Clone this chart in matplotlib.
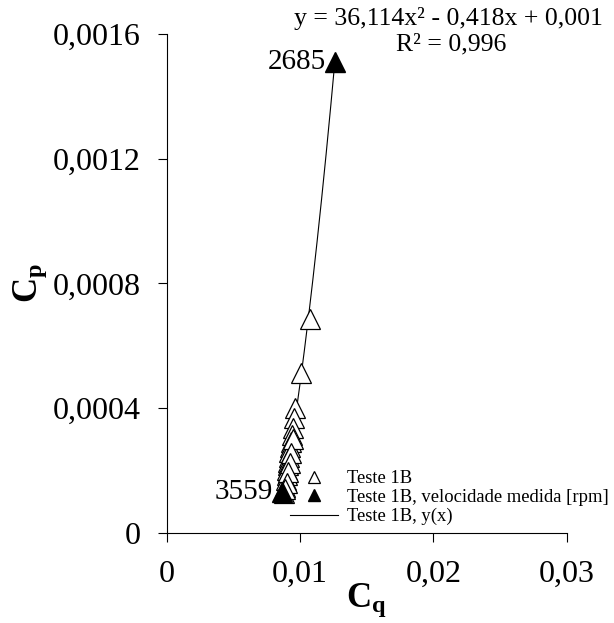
import numpy as np
import matplotlib
matplotlib.use("Agg")
import matplotlib.pyplot as plt

plt.rcParams['font.family'] = ['Liberation Serif', 'DejaVu Serif']
plt.rcParams['mathtext.fontset'] = 'custom'
plt.rcParams['mathtext.rm'] = 'Liberation Serif'
plt.rcParams['mathtext.bf'] = 'Liberation Serif:bold'
plt.rcParams['mathtext.it'] = 'Liberation Serif:italic'

# Open triangles: Teste 1B
cq_open = [0.01076, 0.01006, 0.00964, 0.00956, 0.00946, 0.00941, 0.00934, 0.00926,
           0.00921, 0.00921, 0.00914, 0.00914, 0.00906, 0.00901, 0.00896, 0.00889,
           0.00881, 0.00945, 0.00935, 0.00925, 0.00912, 0.00900, 0.00890]
cp_open = [0.000685, 0.000511, 0.000399, 0.000367, 0.000335, 0.000313, 0.000292, 0.000276,
           0.000260, 0.000244, 0.000228, 0.000217, 0.000201, 0.000185, 0.000169, 0.000148,
           0.000126, 0.000300, 0.000255, 0.000225, 0.000195, 0.000160, 0.000140]
# Filled triangles: measured rpm
cq_rpm = [0.0126, 0.00864]
cp_rpm = [0.00151, 0.000130]
rpm_labels = ['2685', '3559']

eq_line1 = 'y = 36,114x² - 0,418x + 0,001'
eq_line2 = 'R² = 0,996'

x_ticks = [0, 0.01, 0.02, 0.03]
x_ticklabels = ['0', '0,01', '0,02', '0,03']
y_ticks = [0, 0.0004, 0.0008, 0.0012, 0.0016]
y_ticklabels = ['0', '0,0004', '0,0008', '0,0012', '0,0016']

W, H = 614, 623
fig = plt.figure(figsize=(W / 100, H / 100), dpi=100)
ax = fig.add_axes([166.5 / W, 1 - 532.7 / H, (566.7 - 166.5) / W, (532.7 - 34) / H])

# trendline (quadratic fit over all points)
all_x = np.array(cq_open + cq_rpm)
all_y = np.array(cp_open + cp_rpm)
coef = np.polyfit(all_x, all_y, 2)
xs = np.linspace(all_x.min(), all_x.max(), 200)
ax.plot(xs, np.polyval(coef, xs), color='black', lw=0.8, label='Teste 1B, y(x)', zorder=2)

ax.plot(cq_open, cp_open, linestyle='none', marker='^', ms=14, mfc='white', mec='black',
        mew=0.9, label='Teste 1B', zorder=3)
ax.plot(cq_rpm, cp_rpm, linestyle='none', marker='^', ms=14, mfc='black', mec='black',
        label='Teste 1B, velocidade medida [rpm]', zorder=4)

for xv, yv, lab in zip(cq_rpm, cp_rpm, rpm_labels):
    ax.annotate(lab, (xv, yv), xytext=(-6, 0), textcoords='offset points',
                ha='right', va='center', fontsize=21)

fig.text(448 / W, 1 - 18 / H, eq_line1, ha='center', va='center', fontsize=18.5)
fig.text(451 / W, 1 - 44 / H, eq_line2, ha='center', va='center', fontsize=18.5)

ax.set_xlim(0, 0.03)
ax.set_ylim(0, 0.0016)
ax.set_xticks(x_ticks)
ax.set_xticklabels(x_ticklabels)
ax.set_yticks(y_ticks)
ax.set_yticklabels(y_ticklabels)
ax.tick_params(axis='both', direction='out', length=6.5, width=0.8, labelsize=23)
ax.tick_params(axis='x', pad=13)
ax.tick_params(axis='y', pad=12)
for s in ['top', 'right']:
    ax.spines[s].set_visible(False)
for s in ['left', 'bottom']:
    ax.spines[s].set_linewidth(0.8)

ax.set_xlabel(r'$\mathbf{C_q}$', fontsize=25, va='center')
ax.xaxis.set_label_coords(0.5, -(600 - 532.7) / 498.7)
ax.set_ylabel(r'$\mathbf{C_p}$', fontsize=25, va='center')
ax.yaxis.set_label_coords((30 - 166.5) / 400.2, 0.5)

handles, labels = ax.get_legend_handles_labels()
order = [1, 2, 0]
leg = fig.legend([handles[i] for i in order], [labels[i] for i in order],
                 loc='upper left', bbox_to_anchor=(290 / W, 1 - 470 / H),
                 frameon=False, fontsize=13.4, handlelength=2.6, handletextpad=0.45,
                 labelspacing=0.1, borderpad=0, borderaxespad=0, markerscale=0.65)

fig.savefig('out.png', dpi=100)
